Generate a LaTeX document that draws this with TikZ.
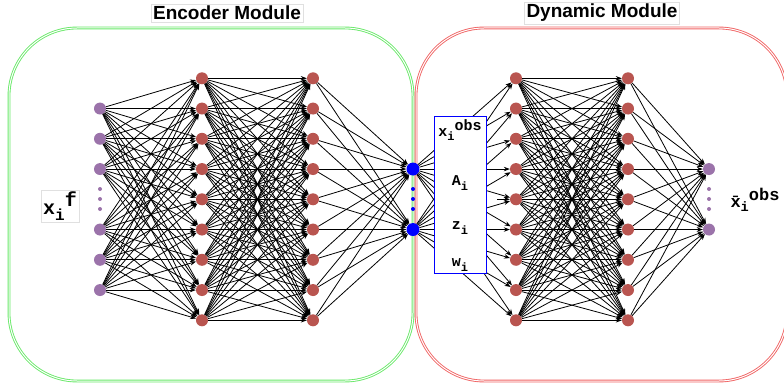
\documentclass[tikz,border=0pt]{standalone}
\usepackage{fontspec}
\setmainfont{Liberation Sans}
\setmonofont{Liberation Mono}
\usetikzlibrary{arrows.meta}

\definecolor{neuronred}{RGB}{185,85,80}
\definecolor{neuronpurple}{RGB}{155,115,170}
\definecolor{encgreen}{RGB}{105,232,105}
\definecolor{dynred}{RGB}{240,100,100}

% variable with subscript and superscript
\newcommand{\varlbl}[3]{#1\raisebox{-0.55ex}{\scalebox{0.8}{#2}}\raisebox{0.75ex}{#3}}

\begin{document}
\begin{tikzpicture}[x=1pt,y=-1pt,>={Stealth[length=6pt,width=4.5pt]}]
\tikzset{
  neuron/.style={circle,inner sep=0pt,minimum size=12pt},
  hidden/.style={neuron,fill=neuronred},
  io/.style={neuron,fill=neuronpurple},
  latent/.style={neuron,fill=blue,minimum size=13pt},
  smalldot/.style={circle,inner sep=0pt,minimum size=4pt,fill=#1},
  link/.style={->,line width=0.8pt},
  module/.style={double=white,double distance=1pt,line width=0.9pt,rounded corners=68pt},
  title/.style={draw=black!12,fill=white,inner sep=2pt,font=\bfseries\fontsize{19}{19}\selectfont},
  varname/.style={font=\ttfamily\bfseries\fontsize{15}{15}\selectfont,inner sep=1pt},
}
\useasboundingbox (0,0) rectangle (784,385);

% modules
\draw[module,draw=encgreen] (9,28) rectangle (413,381);
\draw[module,draw=dynred] (416,28) rectangle (787,381);
\node[title] (enctitle) at (227,13) {Encoder Module};
\node[title] (dyntitle) at (602,13) {Dynamic Module};

% layers
\foreach \i in {1,...,9} {
  \node[hidden] (a\i) at (202,{48.05+30.25*\i}) {};
  \node[hidden] (b\i) at (313,{48.05+30.25*\i}) {};
  \node[hidden] (c\i) at (516,{48.05+30.25*\i}) {};
  \node[hidden] (d\i) at (628,{48.05+30.25*\i}) {};
}
\foreach \i in {2,3,4,6,7,8}
  \node[io] (in\i) at (100,{48.05+30.25*\i}) {};
\foreach \i in {4,6} {
  \node[latent] (z\i) at (413,{48.05+30.25*\i}) {};
  \node[io] (out\i) at (709,{48.05+30.25*\i}) {};
}
\foreach \k in {0,1,2} {
  \node[smalldot=neuronpurple] (indot\k) at (100,{189+10*\k}) {};
  \node[smalldot=blue] (zdot\k) at (413,{189+10*\k}) {};
  \node[smalldot=neuronpurple] (outdot\k) at (709,{189+10*\k}) {};
}

% connections
\foreach \i in {2,3,4,6,7,8}
  \foreach \j in {1,...,9}
    \draw[link] (in\i) -- (a\j);
\foreach \i in {1,...,9}
  \foreach \j in {1,...,9} {
    \draw[link] (a\i) -- (b\j);
    \draw[link] (c\i) -- (d\j);
  }
\foreach \i in {1,...,9}
  \foreach \j in {4,6} {
    \draw[link] (b\i) -- (z\j);
    \draw[link] (z\j) -- (c\i);
    \draw[link] (d\i) -- (out\j);
  }
\coordinate (stub) at (497,199.3);
\draw[link] (stub) -- (c5);

% observation box
\node[draw=blue,line width=0.9pt,fill=white,minimum width=52pt,minimum height=157pt,inner sep=0pt] (obsbox) at (460,194.5) {};
\node[varname] (xobs) at (460,130) {\varlbl{x}{i}{obs}};
\node[varname] (ai) at (460,183) {\varlbl{A}{i}{}};
\node[varname] (zi) at (460,228) {\varlbl{z}{i}{}};
\node[varname] (wi) at (460,265) {\varlbl{w}{i}{}};

% labels
\node[draw=black!12,inner sep=2pt,font=\ttfamily\bfseries\fontsize{20}{20}\selectfont] (xf) at (60,206) {\varlbl{x}{i}{f}};
\node[font=\ttfamily\bfseries\fontsize{17}{17}\selectfont,inner sep=1pt] (xbar) at (755,200) {\varlbl{\=x}{i}{obs}};
\end{tikzpicture}
\end{document}
